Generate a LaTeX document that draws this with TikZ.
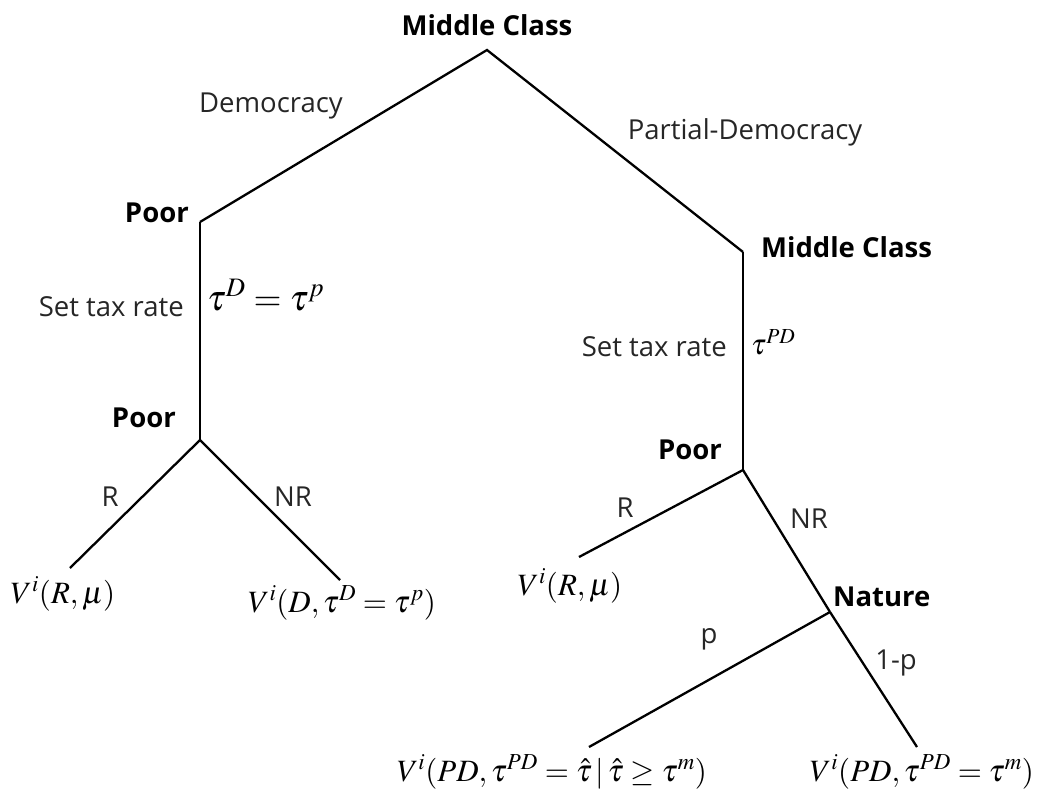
\documentclass[tikz,border=0pt]{standalone}
\usepackage{mathptmx}
\usepackage{fontspec}
\setmainfont{Open Sans}
\begin{document}
\begin{tikzpicture}[x=1pt,y=-1pt,
  edge/.style={line width=2.3pt, line join=miter},
  player/.style={font=\fontsize{27.5}{32}\selectfont\bfseries, inner sep=0pt},
  lbl/.style={font=\fontsize{27.5}{32}\selectfont, text=black!85, inner sep=0pt},
  leaf/.style={font=\fontsize{31}{36}\selectfont, inner sep=0pt, anchor=base},
  bigmath/.style={font=\fontsize{36}{40}\selectfont, inner sep=0pt, anchor=base west},
  midmath/.style={font=\fontsize{29}{34}\selectfont, inner sep=0pt, anchor=base west}]
\useasboundingbox (0,0) rectangle (1048,792);

% vertices
\coordinate (top) at (487,50);
\coordinate (poorA) at (200,222);
\coordinate (poorB) at (200,440);
\coordinate (mcB) at (743,252);
\coordinate (poorC) at (743,470);
\coordinate (nat) at (830,612);
% leaf ends
\coordinate (eRA) at (70,568);
\coordinate (eNRA) at (340,580);
\coordinate (eRC) at (579,557);
\coordinate (eP) at (589,747);
\coordinate (eQ) at (917,747);

% edges
\draw[edge] (poorA) -- (top) -- (mcB);
\draw[edge] (poorA) -- (poorB);
\draw[edge] (mcB) -- (poorC);
\draw[edge] (poorB) -- (eRA);
\draw[edge] (poorB) -- (eNRA);
\draw[edge] (poorC) -- (eRC);
\draw[edge] (poorC) -- (nat);
\draw[edge] (nat) -- (eQ);
\draw[edge] (nat) -- (eP);

% player labels
\node[player] (lTop) at (487,25) {Middle Class};
\node[player, anchor=east] (lPoorA) at (189,213) {Poor};
\node[player, anchor=east] (lPoorB) at (176,418) {Poor};
\node[player, anchor=west] (lMC) at (761,247) {Middle Class};
\node[player, anchor=east] (lPoorC) at (722,450) {Poor};
\node[player, anchor=west] (lNat) at (833,597) {Nature};

% action labels
\node[lbl] (dem) at (271,106) {Democracy};
\node[lbl] (pdem) at (745,132) {Partial-Democracy};
\node[lbl, anchor=east] (taxA) at (184,307) {Set tax rate};
\node[lbl, anchor=east] (taxB) at (727,347) {Set tax rate};
\node[bigmath] (tauA) at (207,310) {$\tau^{D}=\tau^{p}$};
\node[midmath] (tauB) at (751,354) {$\tau^{PD}$};
\node[lbl] (rA) at (110,497) {R};
\node[lbl] (nrA) at (293,497) {NR};
\node[lbl] (rC) at (625,508) {R};
\node[lbl] (nrC) at (809,519) {NR};
\node[lbl] (pp) at (709,639) {p};
\node[lbl] (qq) at (896,663) {1-p};

% payoffs
\node[leaf] (vRA) at (63,603) {$V^{i}(R,\mu)$};
\node[leaf] (vD) at (342,612) {$V^{i}(D,\tau^{D}=\tau^{p})$};
\node[leaf] (vRC) at (570,595) {$V^{i}(R,\mu)$};
\node[leaf] (vP) at (552,781) {$V^{i}(PD,\tau^{PD}=\hat{\tau}\,|\,\hat{\tau}\geq\tau^{m})$};
\node[leaf] (vQ) at (922,781) {$V^{i}(PD,\tau^{PD}=\tau^{m})$};
\end{tikzpicture}
\end{document}
